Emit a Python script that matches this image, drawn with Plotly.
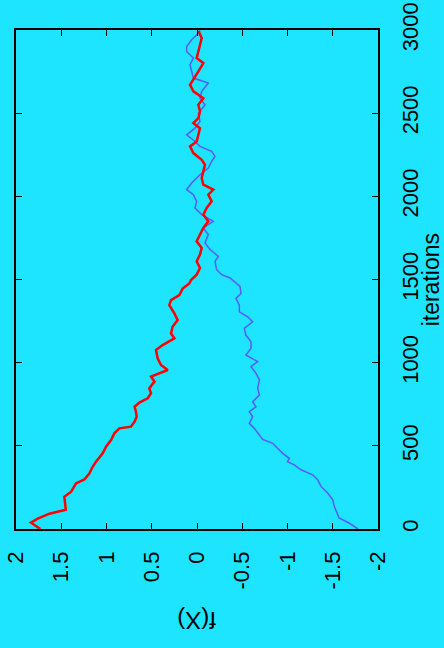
import plotly.graph_objects as go

# ---- data ----
red_iter = [0, 38, 62, 92, 116, 154, 194, 224, 274, 298, 334, 374, 405, 455, 495, 535, 575, 605,
            615, 645, 675, 705, 735, 760, 786, 816, 846, 886, 916, 956, 986, 1026, 1076, 1106,
            1146, 1176, 1216, 1256, 1296, 1346, 1376, 1406, 1446, 1476, 1497, 1529, 1569, 1609,
            1650, 1690, 1730, 1770, 1810, 1850, 1890, 1930, 1970, 2010, 2040, 2070, 2110, 2150,
            2190, 2220, 2260, 2300, 2330, 2370, 2410, 2440, 2470, 2510, 2550, 2590, 2631, 2671,
            2701, 2751, 2801, 2831, 2871, 2911, 2951, 2995]
red_f = [1.73, 1.834, 1.76, 1.63, 1.45, 1.455, 1.466, 1.39, 1.337, 1.245, 1.19, 1.153, 1.116,
         1.042, 1.005, 0.95, 0.913, 0.858, 0.73, 0.69, 0.667, 0.674, 0.69, 0.637, 0.545, 0.508,
         0.527, 0.47, 0.508, 0.324, 0.398, 0.435, 0.453, 0.38, 0.25, 0.287, 0.27, 0.214, 0.25,
         0.306, 0.287, 0.195, 0.158, 0.085, 0.066, 0.004, -0.033, 0.004, -0.033, -0.052, 0.004,
         -0.033, -0.07, -0.125, -0.07, -0.107, -0.162, -0.125, -0.18, -0.07, -0.052, -0.07,
         -0.088, -0.052, 0.04, 0.077, 0.004, -0.015, -0.033, 0.04, -0.015, -0.033, -0.015,
         -0.07, 0.04, 0.077, 0.04, -0.015, -0.07, 0.004, -0.015, -0.033, -0.052, -0.015]

blue_iter = [0, 36, 66, 96, 136, 176, 216, 256, 296, 326, 356, 386, 405, 425, 455, 485, 515,
             539, 565, 605, 635, 675, 705, 735, 765, 806, 846, 896, 936, 976, 1006, 1046, 1086,
             1126, 1166, 1206, 1246, 1276, 1306, 1346, 1386, 1416, 1459, 1509, 1529, 1559, 1609,
             1639, 1680, 1720, 1770, 1810, 1850, 1890, 1930, 1970, 2010, 2040, 2080, 2130, 2170,
             2210, 2240, 2270, 2300, 2330, 2370, 2410, 2450, 2500, 2550, 2590, 2631, 2681, 2711,
             2751, 2791, 2831, 2871, 2901, 2941, 2981, 2995]
blue_f = [-1.78, -1.68, -1.57, -1.55, -1.517, -1.5, -1.444, -1.37, -1.333, -1.278, -1.149,
          -1.075, -1.0, -1.02, -0.947, -0.89, -0.836, -0.726, -0.69, -0.633, -0.578, -0.615,
          -0.578, -0.652, -0.615, -0.69, -0.67, -0.69, -0.652, -0.597, -0.67, -0.54, -0.597,
          -0.597, -0.54, -0.523, -0.615, -0.56, -0.468, -0.468, -0.43, -0.486, -0.475, -0.365,
          -0.273, -0.217, -0.199, -0.236, -0.144, -0.088, -0.125, -0.07, -0.18, -0.052, 0.022,
          0.004, 0.04, 0.114, 0.059, -0.033, -0.125, -0.162, -0.199, -0.162, -0.033, 0.022,
          0.114, 0.022, -0.033, -0.015, -0.088, -0.033, -0.052, -0.125, 0.04, 0.059, 0.077,
          0.04, 0.114, 0.114, 0.059, -0.015, -0.033]

f_ticks = [2, 1.5, 1, 0.5, 0, -0.5, -1, -1.5, -2]
f_tick_labels = ["2", "1.5", "1", "0.5", "0", "-0.5", "-1", "-1.5", "-2"]
iter_ticks = [0, 500, 1000, 1500, 2000, 2500, 3000]
iter_tick_labels = ["0", "500", "1000", "1500", "2000", "2500", "3000"]

BG = "#1de5ff"
FONT = "Liberation Sans, Arial, Helvetica, sans-serif"

fig = go.Figure()
fig.add_trace(go.Scatter(x=blue_f, y=blue_iter, mode="lines",
                         line=dict(color="#5a5aff", width=1.5), showlegend=False))
fig.add_trace(go.Scatter(x=red_f, y=red_iter, mode="lines",
                         line=dict(color="#ff0000", width=2.5), showlegend=False))

axis_common = dict(showgrid=False, zeroline=False, showline=True, linecolor="black",
                   linewidth=1.5, mirror="ticks", ticks="inside", ticklen=6,
                   tickcolor="black", tickwidth=1, automargin=False,
                   tickfont=dict(family=FONT, size=22, color="black"))

fig.update_xaxes(range=[2, -2], tickvals=f_ticks, ticktext=f_tick_labels,
                 tickangle=-90, ticklabelstandoff=12, **axis_common)
fig.update_yaxes(range=[0, 3000], side="right", tickvals=iter_ticks,
                 ticktext=iter_tick_labels, tickangle=-90, ticklabelstandoff=12,
                 **axis_common)

fig.update_layout(
    width=444, height=648,
    margin=dict(l=16, r=66, t=30, b=119),
    paper_bgcolor=BG, plot_bgcolor=BG,
    annotations=[
        dict(text="f(X)", xref="paper", yref="paper", x=0.5, y=-0.182,
             showarrow=False, textangle=180, xanchor="center", yanchor="middle",
             font=dict(family=FONT, size=24, color="black")),
        dict(text="iterations", xref="paper", yref="paper", x=1.146, y=0.5,
             showarrow=False, textangle=-90, xanchor="center", yanchor="middle",
             font=dict(family=FONT, size=23, color="black")),
    ],
)

fig.write_html(
    "out.html",
    config={"displayModeBar": False},
    post_script="document.body.style.margin='0';document.body.style.overflow='hidden';"
                "document.body.style.background='" + BG + "';",
)
